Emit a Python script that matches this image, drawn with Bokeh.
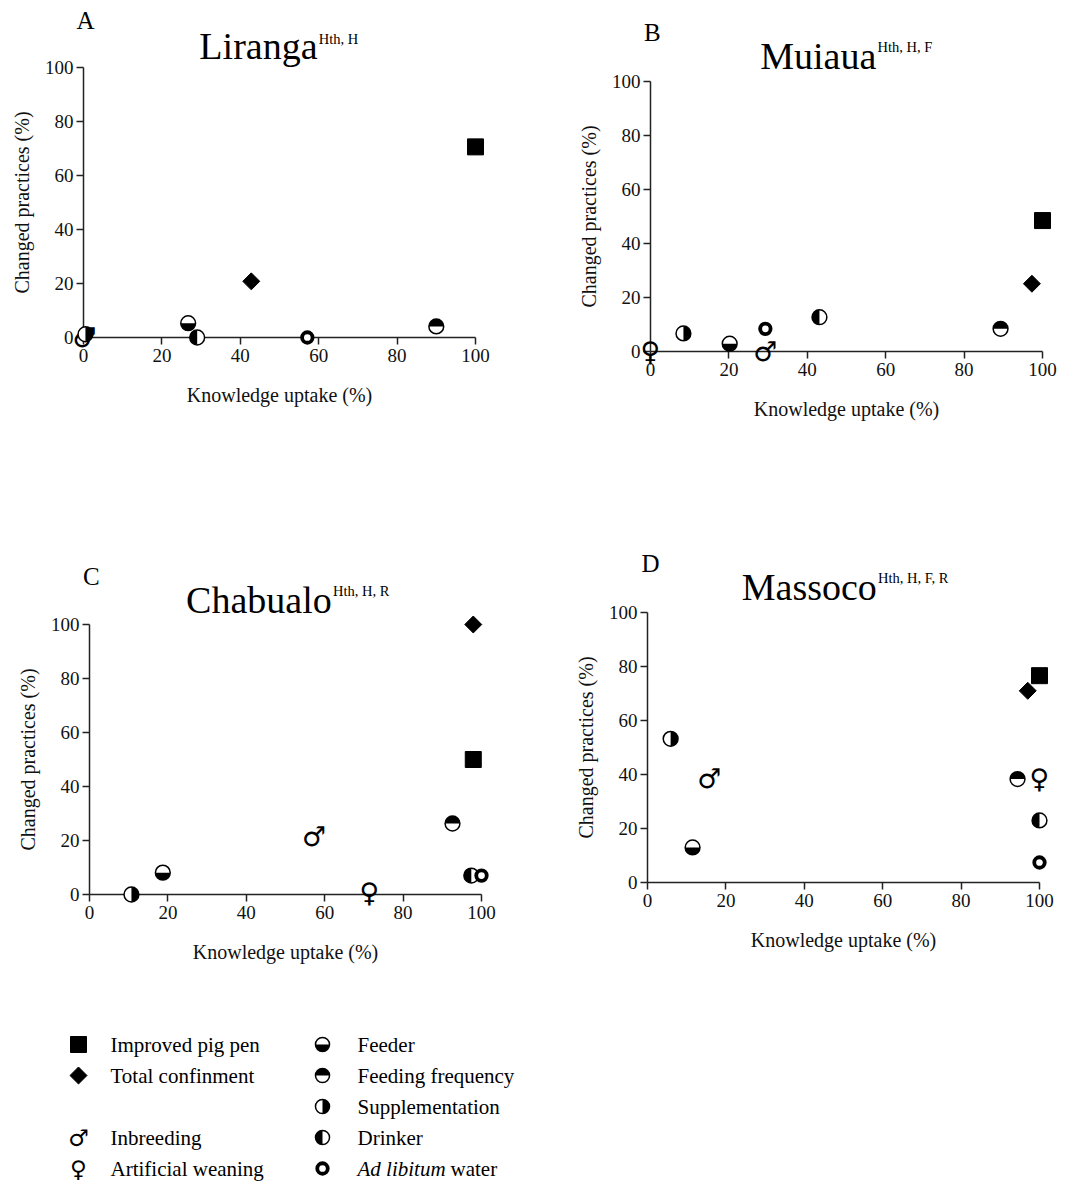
import numpy as np
from bokeh.plotting import figure
from bokeh.models import Range1d, FixedTicker, Label
from bokeh.layouts import column, row
from bokeh.embed import file_html
from bokeh.resources import INLINE
from bokeh.core.properties import value

FONT = "Liberation Serif"
SYM_FONT = "DejaVu Sans"

# ---------------- data ----------------
practices = ["Improved pig pen", "Total confinment", "Inbreeding", "Artificial weaning",
             "Feeder", "Feeding frequency", "Supplementation", "Drinker", "Ad libitum water"]

# knowledge uptake (%) / changed practices (%) per village; None = not shown
liranga_knowledge = [100, 42.8, 0.3, None, 26.7, 90.0, 0.5, 29.0, 57.1]
liranga_changed = [70.6, 20.8, 0.0, None, 5.3, 4.1, 1.2, 0.0, 0.0]

muiaua_knowledge = [100, 97.3, 29.3, 0.0, 20.2, 89.3, 8.4, 43.1, 29.3]
muiaua_changed = [48.5, 25.1, 0.0, 0.0, 2.9, 8.4, 6.7, 12.7, 8.4]

chabualo_knowledge = [97.9, 97.9, 57.3, 71.4, 18.7, 92.6, 10.7, 97.4, 100]
chabualo_changed = [50.0, 100.0, 21.5, 0.7, 8.1, 26.3, 0.0, 7.0, 7.0]

massoco_knowledge = [100, 97.0, 15.8, 100, 11.5, 94.4, 5.9, 100, 100]
massoco_changed = [76.6, 71.0, 38.7, 38.7, 13.0, 38.3, 53.2, 23.0, 7.4]

panel_letters = ["A", "B", "C", "D"]
village_names = ["Liranga", "Muiaua", "Chabualo", "Massoco"]
superscripts = ["Hth, H", "Hth, H, F", "Hth, H, R", "Hth, H, F, R"]
axis_ticks = [0, 20, 40, 60, 80, 100]
x_title = "Knowledge uptake (%)"
y_title = "Changed practices (%)"

# ---------------- styles ----------------
kinds = ["square", "diamond", "male", "female", "half_bottom", "half_top",
         "half_right", "half_left", "ring"]
HALF_ANGLES = {
    "half_bottom": (np.pi, 2 * np.pi),
    "half_top": (0, np.pi),
    "half_right": (-np.pi / 2, np.pi / 2),
    "half_left": (np.pi / 2, 3 * np.pi / 2),
}


def draw_symbol(p, kind, xs, ys, scale=1.0):
    n = len(xs)
    if n == 0:
        return
    if kind == "square":
        p.scatter(x=xs, y=ys, marker="square", size=16 * scale, fill_color="black",
                  line_color="black", level="overlay")
    elif kind == "diamond":
        p.scatter(x=xs, y=ys, marker="square", angle=np.pi / 4, size=12 * scale,
                  fill_color="black", line_color="black", level="overlay")
    elif kind in ("male", "female"):
        ch = "\u2642" if kind == "male" else "\u2640"
        p.text(x=xs, y=ys, text=[ch] * n, text_font=value(SYM_FONT),
               text_font_size="%dpx" % round(27 * scale), text_align="center",
               text_baseline="middle", text_color="black", level="overlay")
    elif kind in HALF_ANGLES:
        a0, a1 = HALF_ANGLES[kind]
        r = 7.4 * scale
        p.scatter(x=xs, y=ys, marker="circle", size=2 * r, fill_color="white",
                  line_color=None, level="overlay")
        p.wedge(x=xs, y=ys, radius=r, radius_units="screen", start_angle=a0,
                end_angle=a1, fill_color="black", line_color=None, level="overlay")
        p.scatter(x=xs, y=ys, marker="circle", size=2 * r, fill_color=None,
                  line_color="black", line_width=1.5, level="overlay")
    elif kind == "ring":
        p.scatter(x=xs, y=ys, marker="circle", size=10.5 * scale, fill_color="white",
                  line_color="black", line_width=3.8, level="overlay")


# layout per panel: figure width, height, pixel of data (0,0) inside figure
PX_X, PX_Y = 3.92, 2.7
panel_geom = [
    (540, 490, 83, 337),
    (540, 490, 110, 351),
    (540, 512, 89, 404),
    (540, 512, 107, 392),
]
# title placement in data units: letter (x, y), main baseline y, superscript (x, y)
title_pos = [
    (0.5, 117.4, 107.8, 60.0, 110.4),
    (0.5, 118.0, 109.3, 57.9, 112.6),
    (0.5, 117.8, 109.0, 62.1, 112.3),
    (0.8, 118.1, 109.6, 58.8, 112.6),
]
XT_POS = (50, -21.3)
YT_POS = (-15.8, 50)

knowledge_sets = [liranga_knowledge, muiaua_knowledge, chabualo_knowledge, massoco_knowledge]
changed_sets = [liranga_changed, muiaua_changed, chabualo_changed, massoco_changed]


def make_panel(i):
    W, H, x0, y0 = panel_geom[i]
    xr = Range1d(-x0 / PX_X, (W - x0) / PX_X)
    yr = Range1d(-(H - y0) / PX_Y, y0 / PX_Y)
    p = figure(width=W, height=H, x_range=xr, y_range=yr,
               toolbar_location=None, output_backend="svg", min_border=0)
    p.outline_line_color = None
    p.grid.visible = False
    for ax in (p.xaxis[0], p.yaxis[0]):
        ax.fixed_location = 0
        ax.bounds = (0, 100)
        ax.ticker = FixedTicker(ticks=axis_ticks)
        ax.minor_tick_line_color = None
        ax.major_tick_in = 0
        ax.major_tick_out = 7
        ax.axis_line_width = 1.5
        ax.axis_line_color = "#222222"
        ax.major_tick_line_width = 1.5
        ax.major_tick_line_color = "#222222"
        ax.major_label_text_font = FONT
        ax.major_label_text_font_size = "19px"
        ax.major_label_text_color = "#111111"
    p.xaxis.major_label_standoff = 4
    p.yaxis.major_label_standoff = 3

    ks, cs = knowledge_sets[i], changed_sets[i]
    for j, kind in enumerate(kinds):
        if ks[j] is None:
            continue
        draw_symbol(p, kind, [ks[j]], [cs[j]])

    p.add_layout(Label(x=XT_POS[0], y=XT_POS[1], text=x_title, text_font=FONT,
                       text_font_size="20px", text_align="center",
                       text_baseline="middle", text_color="#111111"))
    p.add_layout(Label(x=YT_POS[0], y=YT_POS[1], text=y_title, text_font=FONT,
                       text_font_size="20px", text_align="center", angle=np.pi / 2,
                       text_baseline="middle", text_color="#111111"))

    lx, ly, my, sx, sy = title_pos[i]
    p.add_layout(Label(x=lx, y=ly, text=panel_letters[i], text_font=FONT,
                       text_font_size="25px", text_align="center",
                       text_baseline="alphabetic", text_color="black"))
    p.add_layout(Label(x=sx - 0.3, y=my, text=village_names[i], text_font=FONT,
                       text_font_size="38px", text_align="right",
                       text_baseline="alphabetic", text_color="black"))
    p.add_layout(Label(x=sx, y=sy, text=superscripts[i], text_font=FONT,
                       text_font_size="14.5px", text_align="left",
                       text_baseline="alphabetic", text_color="black"))
    return p


panels = [make_panel(i) for i in range(4)]

# ---------------- legend ----------------
LEG_W, LEG_H = 1080, 182
leg = figure(width=LEG_W, height=LEG_H, x_range=Range1d(0, LEG_W), y_range=Range1d(0, LEG_H),
             toolbar_location=None, output_backend="svg", min_border=0,
             x_axis_type=None, y_axis_type=None)
leg.outline_line_color = None
leg.grid.visible = False

col_sym_x = [78, 322]
col_text_x = [110, 357]
row_y = [42, 73, 104, 135, 166]
legend_slots = [(0, 0), (0, 1), (0, 3), (0, 4), (1, 0), (1, 1), (1, 2), (1, 3), (1, 4)]

for j, kind in enumerate(kinds):
    c, r = legend_slots[j]
    xs = [col_sym_x[c]]
    ys = [LEG_H - row_y[r]]
    if kind.startswith("half"):
        sc = 0.95
    elif kind in ("male", "female"):
        sc = 0.85
    else:
        sc = 1.0
    draw_symbol(leg, kind, xs, ys, scale=sc)
    name = practices[j]
    if name == "Ad libitum water":
        leg.text(x=[col_text_x[c]], y=ys, text=["Ad libitum"], text_font=value(FONT),
                 text_font_size="21px", text_font_style="italic", text_baseline="middle",
                 text_color="black")
        leg.text(x=[col_text_x[c] + 93], y=ys, text=["water"], text_font=value(FONT),
                 text_font_size="21px", text_baseline="middle", text_color="black")
    else:
        leg.text(x=[col_text_x[c]], y=ys, text=[name], text_font=value(FONT),
                 text_font_size="21px", text_baseline="middle", text_color="black")

layout = column(row(panels[0], panels[1]), row(panels[2], panels[3]), leg)

with open("out.html", "w") as f:
    f.write(file_html(layout, INLINE))
